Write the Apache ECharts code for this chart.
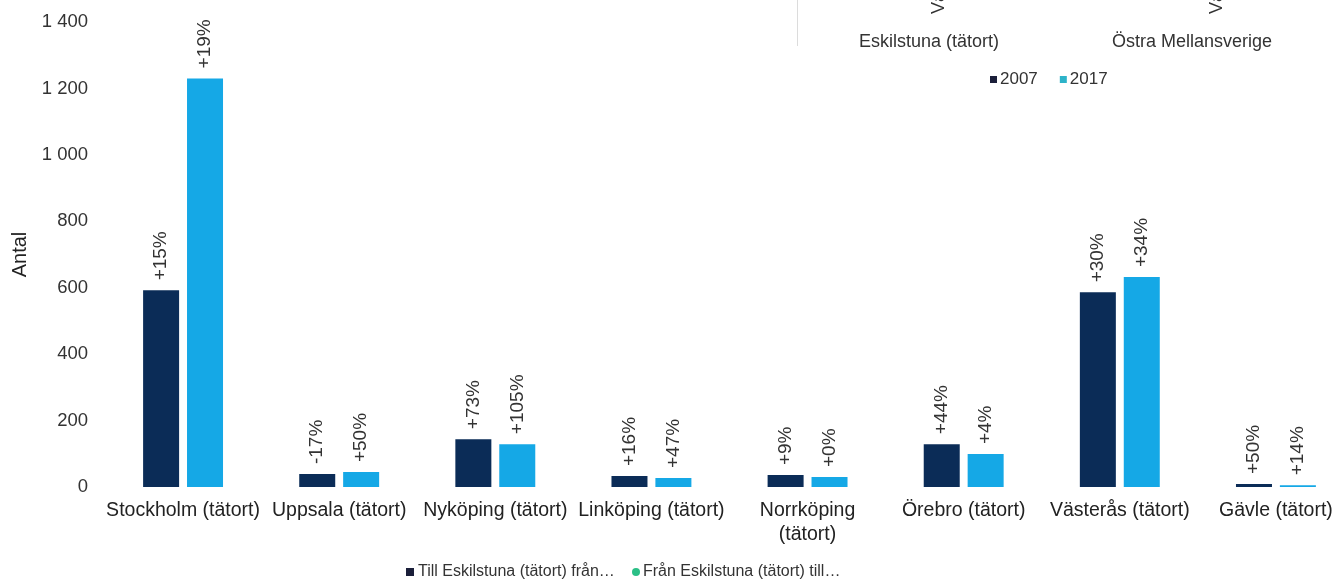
<!DOCTYPE html>
<html>
<head>
<meta charset="utf-8">
<script src="https://cdn.jsdelivr.net/npm/echarts@6/dist/echarts.min.js"></script>
<style>html,body{margin:0;padding:0;background:#fff;}#c{width:1336px;height:583px;}</style>
</head>
<body>
<div id="c"></div>
<script>
const categories = ["Stockholm (tätort)", "Uppsala (tätort)", "Nyköping (tätort)", "Linköping (tätort)", "Norrköping\n(tätort)", "Örebro (tätort)", "Västerås (tätort)", "Gävle (tätort)"];
const values2007 = [592, 39, 144, 33, 36, 129, 586, 9];
const values2017 = [1230, 45, 129, 27, 30, 99, 632, 5];
const change2007 = ["+15%", "-17%", "+73%", "+16%", "+9%", "+44%", "+30%", "+50%"];
const change2017 = ["+19%", "+50%", "+105%", "+47%", "+0%", "+4%", "+34%", "+14%"];
const yTicks = [0, 200, 400, 600, 800, 1000, 1200, 1400];

const FONT = "Liberation Sans, Arial, sans-serif";
const chart = echarts.init(document.getElementById('c'));

function barLabel(arr) {
  return {
    show: true, position: 'top', rotate: 90, align: 'left', verticalAlign: 'middle',
    distance: 10, fontFamily: FONT, fontSize: 19, color: '#333',
    formatter: p => arr[p.dataIndex]
  };
}

chart.setOption({
  animation: false,
  backgroundColor: '#fff',
  textStyle: { fontFamily: FONT },
  grid: { left: 105, width: 1249, top: 22, height: 465, containLabel: false, outerBoundsMode: 'none' },
  legend: {
    left: 985, top: 66, itemWidth: 7, itemHeight: 7, itemGap: 22, icon: 'rect',
    textStyle: { fontFamily: FONT, fontSize: 17, color: '#333', padding: [0, 0, 0, -2] },
    data: [
      { name: '2007', itemStyle: { color: '#1b1f3a' } },
      { name: '2017', itemStyle: { color: '#2db3c9' } }
    ]
  },
  xAxis: {
    type: 'category', data: categories,
    axisLine: { show: false }, axisTick: { show: false },
    axisLabel: { interval: 0, margin: 12, fontFamily: FONT, fontSize: 19.5, color: '#222', lineHeight: 24 }
  },
  yAxis: {
    type: 'value', min: yTicks[0], max: yTicks[yTicks.length - 1], interval: 200,
    name: 'Antal', nameLocation: 'middle', nameGap: 72, nameRotate: 90,
    nameTextStyle: { fontFamily: FONT, fontSize: 20, color: '#222' },
    splitLine: { show: false }, axisLine: { show: false }, axisTick: { show: false },
    axisLabel: {
      margin: 17, fontFamily: FONT, fontSize: 18.5, color: '#333',
      formatter: v => String(v).replace(/\B(?=(\d{3})+(?!\d))/g, ' ')
    }
  },
  series: [
    { name: '2007', type: 'bar', data: values2007, barWidth: 36, barGap: '22%',
      itemStyle: { color: '#0b2c57' }, label: barLabel(change2007) },
    { name: '2017', type: 'bar', data: values2017, barWidth: 36,
      itemStyle: { color: '#15a8e6' }, label: barLabel(change2017) }
  ],
  graphic: [
    { type: 'line', shape: { x1: 797.5, y1: 0, x2: 797.5, y2: 46 }, style: { stroke: '#dcdcdc', lineWidth: 1 } },
    { type: 'text', x: 939, y: 14, rotation: Math.PI / 2,
      style: { text: 'Västerås (tätort)', font: '18px ' + FONT, fill: '#333', align: 'left', verticalAlign: 'middle' } },
    { type: 'text', x: 1217, y: 14, rotation: Math.PI / 2,
      style: { text: 'Västra Mellansverige', font: '18px ' + FONT, fill: '#333', align: 'left', verticalAlign: 'middle' } },
    { type: 'text', x: 929, y: 42,
      style: { text: 'Eskilstuna (tätort)', font: '18px ' + FONT, fill: '#333', align: 'center', verticalAlign: 'middle' } },
    { type: 'text', x: 1192, y: 42,
      style: { text: 'Östra Mellansverige', font: '18px ' + FONT, fill: '#333', align: 'center', verticalAlign: 'middle' } },
    { type: 'rect', shape: { x: 406, y: 568, width: 8, height: 8 }, style: { fill: '#1b1f3a' } },
    { type: 'text', x: 418, y: 572,
      style: { text: 'Till Eskilstuna (tätort) från…', font: '16px ' + FONT, fill: '#333', align: 'left', verticalAlign: 'middle' } },
    { type: 'circle', shape: { cx: 636, cy: 572, r: 4 }, style: { fill: '#2bbf86' } },
    { type: 'text', x: 643, y: 572,
      style: { text: 'Från Eskilstuna (tätort) till…', font: '16px ' + FONT, fill: '#333', align: 'left', verticalAlign: 'middle' } }
  ]
});
</script>
</body>
</html>
